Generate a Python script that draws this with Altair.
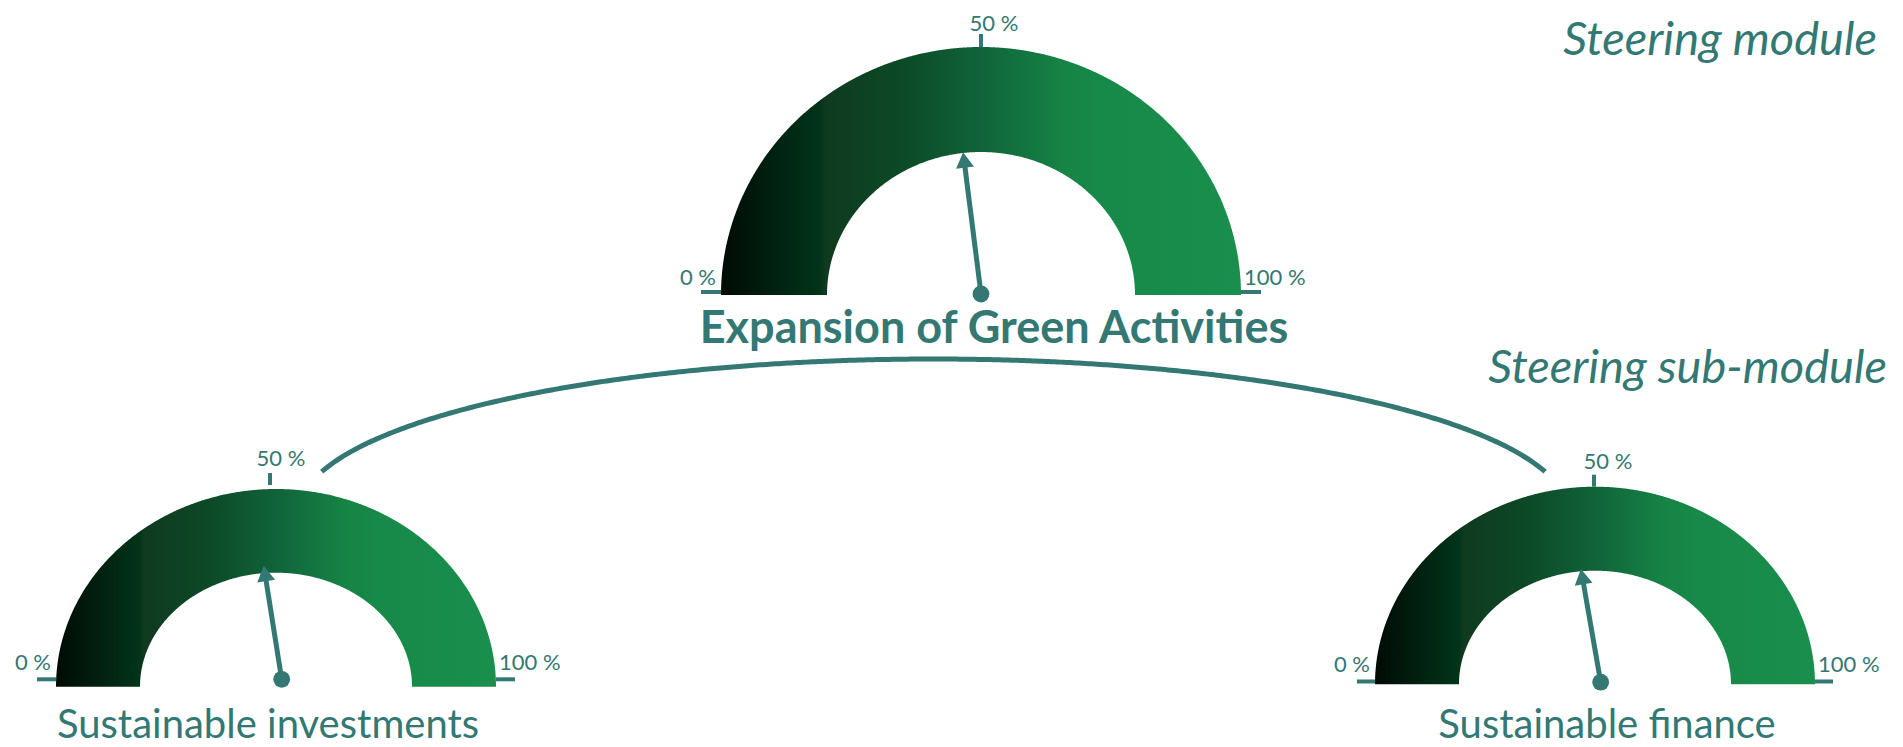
import numpy as np
import pandas as pd
import altair as alt

# ---------------- data ----------------
gauge_names = ["Expansion of Green Activities", "Sustainable investments", "Sustainable finance"]
gauge_values = [46.0, 45.0, 44.5]          # needle readings, percent
tick_values = [0, 50, 100]
tick_labels = ["0 %", "50 %", "100 %"]
module_labels = ["Steering module", "Steering sub-module"]

# ---------------- layout (page pixels) ----------------
W, H, M = 1887, 739, 8
TEAL = "#337873"
FONT = "Lato"

G = [
    dict(cx=981.0, base=295.0, rx=260, ry=248, irx=154, iry=143,
         side_raise=3, side_len=20, top_gap=0, top_len=13, top_dx=0,
         lab_side_dy=7, lab_top_dy=16.5, lab_top_dx=13,
         hub_dx=0, hub_dy=-1, needle_len=143, name_x=994, name_y=343, name_size=45, bold=True),
    dict(cx=276.0, base=686.7, rx=220, ry=197.7, irx=136, iry=114,
         side_raise=7.4, side_len=19, top_gap=4, top_len=12, top_dx=-6,
         lab_side_dy=9.3, lab_top_dy=23, lab_top_dx=5,
         hub_dx=5.7, hub_dy=-7.4, needle_len=115, name_x=268, name_y=738, name_size=40, bold=False),
    dict(cx=1595.0, base=684.2, rx=220, ry=197.5, irx=136, iry=113.5,
         side_raise=2.7, side_len=18, top_gap=0, top_len=12, top_dx=-1,
         lab_side_dy=9.8, lab_top_dy=17.4, lab_top_dx=13,
         hub_dx=5.7, hub_dy=-2, needle_len=115, name_x=1607, name_y=738, name_size=40, bold=False),
]

STOPS = [(0.0, "#000b04"), (0.19, "#01341a"), (0.2, "#0f3a20"), (0.34, "#0c4826"),
         (0.5, "#10633a"), (0.66, "#168445"), (0.75, "#178a4a"), (1.0, "#1a8e4d")]
GRAD = alt.LinearGradient(gradient="linear",
                          stops=[alt.GradientStop(offset=o, color=c) for o, c in STOPS],
                          x1=0, x2=1, y1=0, y2=0)

XS = alt.Scale(domain=[M, M + W], nice=False, zero=False)
YS = alt.Scale(domain=[M, M + H], nice=False, zero=False, reverse=True)


def X(f):
    return alt.X(f, type="quantitative", scale=XS, axis=None)


def Y(f):
    return alt.Y(f, type="quantitative", scale=YS, axis=None, stack=None)


layers = []

# ---------- connector arc between the sub-modules ----------
arc_cx, arc_half, arc_end_y, arc_top = 933.4, 611.7, 471.7, 359.0
arc_rx = 635.0
endf = np.sqrt(1 - (arc_half / arc_rx) ** 2)
arc_ry = (arc_end_y - arc_top) / (1 - endf)
arc_yc = arc_top + arc_ry
dx = np.linspace(-arc_half, arc_half, 400)
conn = pd.DataFrame({"x": arc_cx + dx,
                     "y": arc_yc - arc_ry * np.sqrt(1 - (dx / arc_rx) ** 2),
                     "o": np.arange(len(dx))})
layers.append(alt.Chart(conn).mark_line(color=TEAL, strokeWidth=5, strokeCap="butt")
              .encode(x=X("x"), y=Y("y"), order="o:Q"))

# ---------- gauge bands ----------
for g in G:
    t = np.linspace(0, np.pi, 361)
    xs = np.unique(np.concatenate([g["cx"] + g["rx"] * np.cos(t), g["cx"] + g["irx"] * np.cos(t)]))
    d = xs - g["cx"]
    top = g["base"] - g["ry"] * np.sqrt(np.clip(1 - (d / g["rx"]) ** 2, 0, 1))
    bot = g["base"] - g["iry"] * np.sqrt(np.clip(1 - (d / g["irx"]) ** 2, 0, 1))
    band = pd.DataFrame({"x": xs, "y": top, "y2": bot})
    layers.append(alt.Chart(band).mark_area(color=GRAD, orient="vertical", interpolate="linear")
                  .encode(x=X("x"), y=Y("y"), y2=alt.Y2("y2")))

# ---------- ticks and tick labels ----------
tick_rows, lab_rows = [], []
for gi, g in enumerate(G):
    for v, lab in zip(tick_values, tick_labels):
        th = np.pi * (1 - v / 100)
        c, s = np.cos(th), np.sin(th)
        gap = g["top_gap"] * s
        ln = g["side_len"] * abs(c) + g["top_len"] * s
        x0 = g["cx"] + g["top_dx"] * s + (g["rx"] + gap) * c
        y0 = g["base"] - g["side_raise"] * abs(c) - (g["ry"] + gap) * s
        tick_rows.append(dict(x=x0, y=y0, x2=x0 + ln * c, y2=y0 - ln * s))
        if c < -0.5:
            al, lx = "right", g["cx"] - g["rx"] - 5
        elif c > 0.5:
            al, lx = "left", g["cx"] + g["rx"] + 3
        else:
            al, lx = "center", g["cx"] + g["lab_top_dx"]
        ly = (g["base"] - (g["side_raise"] + g["lab_side_dy"]) * abs(c)
              - (g["ry"] + g["lab_top_dy"]) * s)
        lab_rows.append(dict(x=lx, y=ly, label=lab, align=al))
ticks = pd.DataFrame(tick_rows)
labs = pd.DataFrame(lab_rows)
layers.append(alt.Chart(ticks).mark_rule(color=TEAL, strokeWidth=4, strokeCap="butt")
              .encode(x=X("x"), y=Y("y"), x2=alt.X2("x2"), y2=alt.Y2("y2")))
for al in ["left", "center", "right"]:
    layers.append(alt.Chart(labs[labs["align"] == al]).mark_text(
        align=al, baseline="alphabetic", font=FONT, fontSize=22, color=TEAL)
        .encode(x=X("x"), y=Y("y"), text="label:N"))

# ---------- needles ----------
HEAD = 18.0
h = 0.433 * HEAD
ndl, heads, hubs = [], [], []
for g, v in zip(G, gauge_values):
    th = np.pi * (1 - v / 100)
    c, s = np.cos(th), -np.sin(th)
    hx, hy = g["cx"] + g["hub_dx"], g["base"] + g["hub_dy"]
    L = g["needle_len"]
    ndl.append(dict(x=hx, y=hy, x2=hx + (L - h) * c, y2=hy + (L - h) * s))
    heads.append(dict(x=hx + (L - h) * c, y=hy + (L - h) * s, ang=(360 - (50 - v) * 1.8) % 360))
    hubs.append(dict(x=hx, y=hy))
layers.append(alt.Chart(pd.DataFrame(ndl)).mark_rule(color=TEAL, strokeWidth=5, strokeCap="butt")
              .encode(x=X("x"), y=Y("y"), x2=alt.X2("x2"), y2=alt.Y2("y2")))
layers.append(alt.Chart(pd.DataFrame(heads)).mark_point(
    shape="triangle-up", filled=True, size=HEAD * HEAD, color=TEAL, opacity=1, strokeWidth=0)
    .encode(x=X("x"), y=Y("y"), angle=alt.Angle("ang:Q", scale=None)))
layers.append(alt.Chart(pd.DataFrame(hubs)).mark_circle(size=283, color=TEAL, opacity=1)
              .encode(x=X("x"), y=Y("y")))

# ---------- gauge names ----------
for g, name in zip(G, gauge_names):
    df = pd.DataFrame({"x": [g["name_x"]], "y": [g["name_y"]], "t": [name]})
    layers.append(alt.Chart(df).mark_text(
        align="center", baseline="alphabetic", font=FONT, fontSize=g["name_size"],
        fontWeight="bold" if g["bold"] else "normal", color=TEAL)
        .encode(x=X("x"), y=Y("y"), text="t:N"))

# ---------- module headings ----------
heads_df = pd.DataFrame({"x": [1877, 1887], "y": [55, 383], "t": module_labels})
layers.append(alt.Chart(heads_df).mark_text(
    align="right", baseline="alphabetic", font=FONT, fontSize=47, fontStyle="italic", color=TEAL)
    .encode(x=X("x"), y=Y("y"), text="t:N"))

chart = (alt.layer(*layers)
         .properties(width=W, height=H, padding=0, autosize=alt.AutoSizeParams(type="none"))
         .configure_view(stroke=None))

chart.save("out.html", embed_options={"renderer": "svg", "actions": False})
